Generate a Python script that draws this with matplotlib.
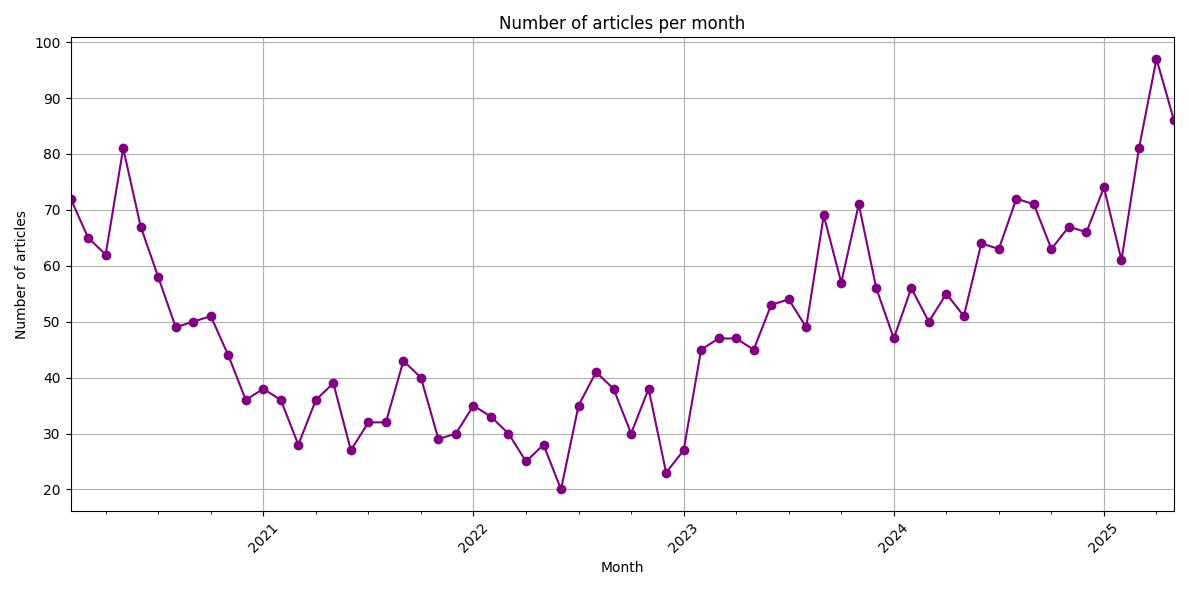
import pandas as pd
import matplotlib
matplotlib.use("Agg")
import matplotlib.pyplot as plt

months = pd.period_range("2020-02", "2025-05", freq="M")
counts = [72, 65, 62, 81, 67, 58, 49, 50, 51, 44, 36,
          38, 36, 28, 36, 39, 27, 32, 32, 43, 40, 29, 30,
          35, 33, 30, 25, 28, 20, 35, 41, 38, 30, 38, 23,
          27, 45, 47, 47, 45, 53, 54, 49, 69, 57, 71, 56,
          47, 56, 50, 55, 51, 64, 63, 72, 71, 63, 67, 66,
          74, 61, 81, 97, 86]

s = pd.Series(counts, index=months)

fig, ax = plt.subplots(figsize=(11.89, 5.90), dpi=100)
s.plot(ax=ax, marker="o", color="purple")
ax.set_title("Number of articles per month")
ax.set_xlabel("Month")
ax.set_ylabel("Number of articles")
ax.grid(True)
plt.xticks(rotation=45)
plt.tight_layout()
plt.savefig("out.png")
